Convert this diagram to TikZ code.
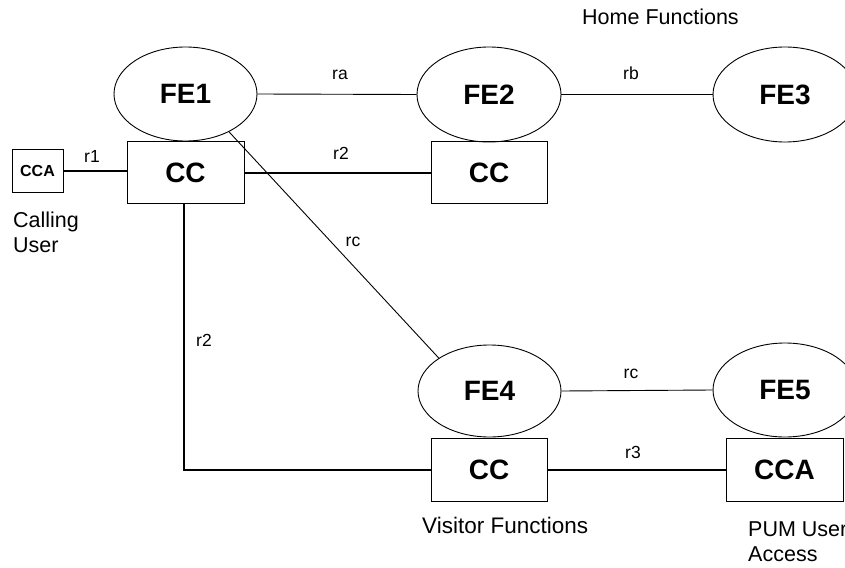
\documentclass[tikz,border=0pt]{standalone}
\usepackage{fontspec}
\setmainfont{Liberation Sans}
\usetikzlibrary{shapes.geometric}
\begin{document}
\begin{tikzpicture}[x=1pt,y=-1pt,
  fe/.style={draw,ellipse,line width=0.9pt,inner sep=0pt,font=\fontsize{28}{32}\selectfont\bfseries},
  box/.style={draw,rectangle,line width=0.9pt,inner sep=0pt,font=\fontsize{28}{32}\selectfont\bfseries},
  thin/.style={line width=0.9pt},
  thick/.style={line width=2pt},
  lbl/.style={anchor=base,inner sep=0pt,font=\fontsize{17.5}{20}\selectfont},
  txt/.style={anchor=north west,inner sep=0pt,align=left,font=\fontsize{21.5}{25.5}\selectfont}]
\useasboundingbox (0,0) rectangle (845,567);
% functional entities
\node[fe,minimum width=143pt,minimum height=94pt] (FE1) at (185.5,94) {FE1};
\node[fe,minimum width=144pt,minimum height=95pt] (FE2) at (489,94.5) {FE2};
\node[fe,minimum width=144pt,minimum height=95pt] (FE3) at (785,94.5) {FE3};
\node[fe,minimum width=143pt,minimum height=92pt] (FE4) at (489.5,391) {FE4};
\node[fe,minimum width=144pt,minimum height=94pt] (FE5) at (785,390) {FE5};
% boxes
\node[box,minimum width=117pt,minimum height=62pt] (CC1) at (185.5,172.5) {CC};
\node[box,minimum width=116pt,minimum height=62pt] (CC2) at (489,172.5) {CC};
\node[box,minimum width=116pt,minimum height=63pt] (CC3) at (489,469.5) {CC};
\node[box,minimum width=117pt,minimum height=63pt] (CCA2) at (784.5,469.5) {CCA};
\node[box,minimum width=51pt,minimum height=43pt,font=\fontsize{16}{18}\selectfont\bfseries] (CCA1) at (37.5,171) {CCA};
% connectors
\draw[thin] (FE1.east) -- (FE2.west);
\draw[thin] (FE2.east) -- (FE3.west);
\draw[thick] (CCA1.east) -- (CCA1.east -| CC1.west);
\draw[thick] (CC1.east) -- (CC2.west);
\draw[thin] (FE1.-41) -- (FE4.147);
\draw[thick] (CC1.south -| 184,0) -- (184,469.5) -- (CC3.west);
\draw[thin] (FE4.east) -- (FE5.west);
\draw[thick] (CC3.east) -- (CCA2.west);
% connector labels
\node[lbl] (lra) at (340,80) {ra};
\node[lbl] (lrb) at (631,80) {rb};
\node[lbl] (lr1) at (92,162) {r1};
\node[lbl] (lr2a) at (341,159) {r2};
\node[lbl] (lrc1) at (353,246) {rc};
\node[lbl] (lr2b) at (204,346) {r2};
\node[lbl] (lrc2) at (631,378) {rc};
\node[lbl] (lr3) at (633,458) {r3};
% texts
\node[txt,anchor=base west] (home) at (582,25) {Home Functions};
\node[txt,anchor=base west,font=\fontsize{22.5}{26}\selectfont] (visitor) at (422,533) {Visitor Functions};
\node[txt] (calling) at (13,211.5) {Calling\\User};
\node[txt] (pum) at (748,521.5) {PUM User\\Access};
\end{tikzpicture}
\end{document}
